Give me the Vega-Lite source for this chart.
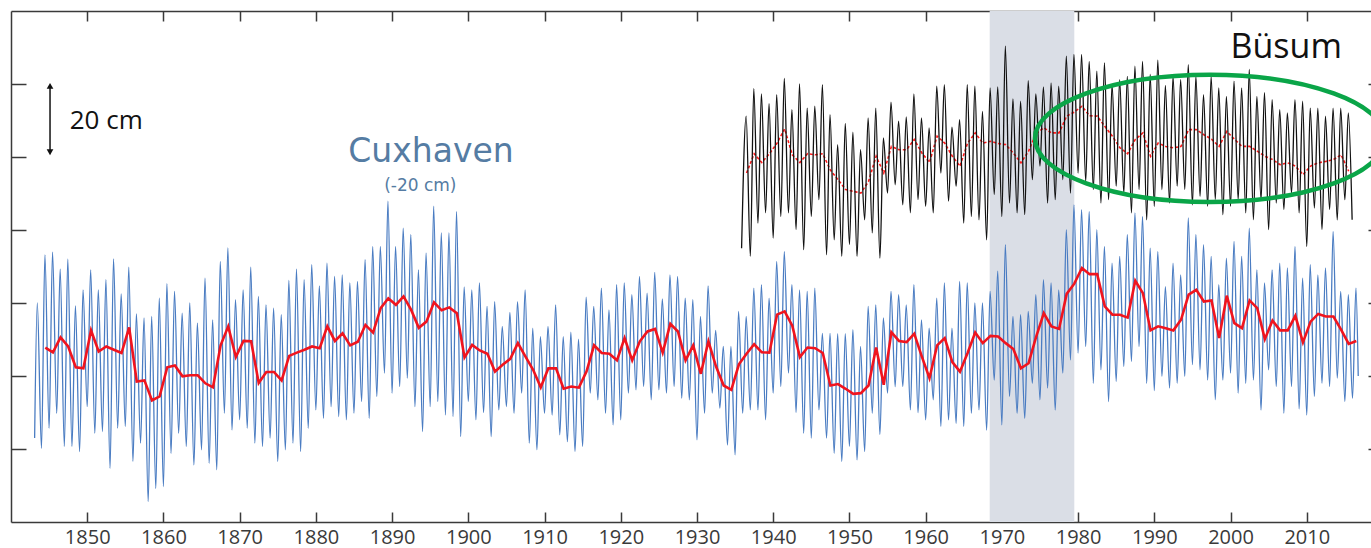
{
"$schema":"https://vega.github.io/schema/vega-lite/v6.json",
"width":1372,"height":511,
"autosize":{"type":"none"},
"padding":{"left":11,"top":11,"right":0,"bottom":26},
"background":"white",
"config":{"view":{"stroke":null},"axis":{"grid":false,"title":null,"domainColor":"#3a3a3a","domainWidth":1.5,"tickColor":"#3a3a3a","tickWidth":1.5}},
"datasets":{
"one":[{}],
"band":[{"start":1968.4,"end":1979.5}],
"cux":[{"t":1843.1,"v":23},{"t":1843.45,"v":60},
{"t":1844,"v":20.2},{"t":1844.45,"v":73.2},{"t":1845,"v":25.7},{"t":1845.45,"v":73.9},{"t":1846,"v":29.8},{"t":1846.45,"v":69.3},{"t":1847,"v":20.7},{"t":1847.45,"v":72.0},{"t":1848,"v":20.7},{"t":1848.45,"v":59.2},{"t":1849,"v":19.3},{"t":1849.45,"v":63.6},
{"t":1850,"v":31.6},{"t":1850.45,"v":69.1},{"t":1851,"v":24.3},{"t":1851.45,"v":63.6},{"t":1852,"v":24.8},{"t":1852.45,"v":66.4},{"t":1853,"v":14.7},{"t":1853.45,"v":72.1},{"t":1854,"v":25.7},{"t":1854.45,"v":62.5},{"t":1855,"v":26.2},{"t":1855.45,"v":69.8},{"t":1856,"v":16.6},{"t":1856.45,"v":57.0},{"t":1857,"v":21.6},{"t":1857.45,"v":55.9},{"t":1858,"v":5.6},{"t":1858.45,"v":56.3},{"t":1859,"v":9.2},{"t":1859.45,"v":61.3},
{"t":1860,"v":9.7},{"t":1860.45,"v":65.3},{"t":1861,"v":18.8},{"t":1861.45,"v":63.2},{"t":1862,"v":24.3},{"t":1862.45,"v":57.2},{"t":1863,"v":20.7},{"t":1863.45,"v":60.0},{"t":1864,"v":15.6},{"t":1864.45,"v":54.5},{"t":1865,"v":19.8},{"t":1865.45,"v":66.8},{"t":1866,"v":16.1},{"t":1866.45,"v":55.4},{"t":1867,"v":14.3},{"t":1867.45,"v":71.4},{"t":1868,"v":29.8},{"t":1868.45,"v":75.1},{"t":1869,"v":25.2},{"t":1869.45,"v":60.9},
{"t":1870,"v":28.0},{"t":1870.45,"v":63.6},{"t":1871,"v":25.7},{"t":1871.45,"v":69.8},{"t":1872,"v":21.6},{"t":1872.45,"v":61.8},{"t":1873,"v":20.7},{"t":1873.45,"v":59.5},{"t":1874,"v":23.0},{"t":1874.45,"v":58.6},{"t":1875,"v":16.6},{"t":1875.45,"v":56.8},{"t":1876,"v":19.8},{"t":1876.45,"v":66.2},{"t":1877,"v":21.6},{"t":1877.45,"v":69.3},{"t":1878,"v":19.3},{"t":1878.45,"v":66.4},{"t":1879,"v":25.7},{"t":1879.45,"v":70.5},
{"t":1880,"v":30.7},{"t":1880.45,"v":64.7},{"t":1881,"v":28.4},{"t":1881.45,"v":70.9},{"t":1882,"v":31.6},{"t":1882.45,"v":67.3},{"t":1883,"v":28.9},{"t":1883.45,"v":67.7},{"t":1884,"v":28.0},{"t":1884.45,"v":65.5},{"t":1885,"v":29.8},{"t":1885.45,"v":65.9},{"t":1886,"v":33.0},{"t":1886.45,"v":71.9},{"t":1887,"v":28.4},{"t":1887.45,"v":75.5},{"t":1888,"v":34.4},{"t":1888.45,"v":75.5},{"t":1889,"v":40.8},{"t":1889.45,"v":87.9},
{"t":1890,"v":35.3},{"t":1890.45,"v":75.5},{"t":1891,"v":37.1},{"t":1891.45,"v":80.5},{"t":1892,"v":39.4},{"t":1892.45,"v":78.7},{"t":1893,"v":31.6},{"t":1893.45,"v":69.1},{"t":1894,"v":24.8},{"t":1894.45,"v":73.7},{"t":1895,"v":31.6},{"t":1895.45,"v":86.5},{"t":1896,"v":33.0},{"t":1896.45,"v":79.2},{"t":1897,"v":29.3},{"t":1897.45,"v":79.2},{"t":1898,"v":28.9},{"t":1898.45,"v":85.1},{"t":1899,"v":23.4},{"t":1899.45,"v":64.4},
{"t":1900,"v":33.0},{"t":1900.45,"v":63.6},{"t":1901,"v":28.0},{"t":1901.45,"v":65.5},{"t":1902,"v":30.0},{"t":1902.45,"v":59.1},{"t":1903,"v":23.4},{"t":1903.45,"v":60.4},{"t":1904,"v":30.7},{"t":1904.45,"v":53.6},{"t":1905,"v":31.6},{"t":1905.45,"v":57.4},{"t":1906,"v":29.8},{"t":1906.45,"v":60.4},{"t":1907,"v":35.3},{"t":1907.45,"v":63.6},{"t":1908,"v":21.6},{"t":1908.45,"v":53.1},{"t":1909,"v":19.8},{"t":1909.45,"v":50.8},
{"t":1910,"v":29.8},{"t":1910.45,"v":53.6},{"t":1911,"v":29.3},{"t":1911.45,"v":59.5},{"t":1912,"v":23.9},{"t":1912.45,"v":50.8},{"t":1913,"v":22.0},{"t":1913.45,"v":52.0},{"t":1914,"v":19.3},{"t":1914.45,"v":50.1},{"t":1915,"v":20.7},{"t":1915.45,"v":61.6},{"t":1916,"v":35.3},{"t":1916.45,"v":59.1},{"t":1917,"v":33.5},{"t":1917.45,"v":64.1},{"t":1918,"v":29.8},{"t":1918.45,"v":58.1},{"t":1919,"v":26.6},{"t":1919.45,"v":65.0},
{"t":1920,"v":28.0},{"t":1920.45,"v":65.5},{"t":1921,"v":35.3},{"t":1921.45,"v":62.3},{"t":1922,"v":36.2},{"t":1922.45,"v":67.3},{"t":1923,"v":37.1},{"t":1923.45,"v":62.7},{"t":1924,"v":33.5},{"t":1924.45,"v":68.4},{"t":1925,"v":36.2},{"t":1925.45,"v":61.1},{"t":1926,"v":35.3},{"t":1926.45,"v":67.7},{"t":1927,"v":37.1},{"t":1927.45,"v":67.3},{"t":1928,"v":33.9},{"t":1928.45,"v":61.3},{"t":1929,"v":33.5},{"t":1929.45,"v":60.9},
{"t":1930,"v":22.5},{"t":1930.45,"v":56.3},{"t":1931,"v":29.8},{"t":1931.45,"v":64.7},{"t":1932,"v":35.3},{"t":1932.45,"v":52.5},{"t":1933,"v":31.2},{"t":1933.45,"v":48.1},{"t":1934,"v":21.1},{"t":1934.45,"v":48.1},{"t":1935,"v":18.4},{"t":1935.45,"v":57.7},{"t":1936,"v":29.8},{"t":1936.45,"v":56.3},{"t":1937,"v":30.7},{"t":1937.45,"v":64.1},{"t":1938,"v":30.7},{"t":1938.45,"v":65.0},{"t":1939,"v":28.0},{"t":1939.45,"v":61.3},
{"t":1940,"v":35.3},{"t":1940.45,"v":71.4},{"t":1941,"v":37.1},{"t":1941.45,"v":74.1},{"t":1942,"v":40.8},{"t":1942.45,"v":65.0},{"t":1943,"v":30.0},{"t":1943.45,"v":63.6},{"t":1944,"v":24.3},{"t":1944.45,"v":63.2},{"t":1945,"v":23.0},{"t":1945.45,"v":64.1},{"t":1946,"v":30.7},{"t":1946.45,"v":51.7},{"t":1947,"v":23.0},{"t":1947.45,"v":51.7},{"t":1948,"v":18.8},{"t":1948.45,"v":51.6},{"t":1949,"v":16.6},{"t":1949.45,"v":51.6},
{"t":1950,"v":20.7},{"t":1950.45,"v":52.7},{"t":1951,"v":17.0},{"t":1951.45,"v":48.1},{"t":1952,"v":19.3},{"t":1952.45,"v":59.1},{"t":1953,"v":29.8},{"t":1953.45,"v":59.5},{"t":1954,"v":24.0},{"t":1954.45,"v":55.9},{"t":1955,"v":35.3},{"t":1955.45,"v":63.2},{"t":1956,"v":37.1},{"t":1956.45,"v":62.3},{"t":1957,"v":37.1},{"t":1957.45,"v":59.5},{"t":1958,"v":30.7},{"t":1958.45,"v":65.0},{"t":1959,"v":30.0},{"t":1959.45,"v":55.4},
{"t":1960,"v":28.0},{"t":1960.45,"v":53.1},{"t":1961,"v":33.5},{"t":1961.45,"v":61.3},{"t":1962,"v":26.2},{"t":1962.45,"v":65.5},{"t":1963,"v":28.0},{"t":1963.45,"v":53.1},{"t":1964,"v":27.0},{"t":1964.45,"v":65.9},{"t":1965,"v":26.2},{"t":1965.45,"v":65.5},{"t":1966,"v":29.8},{"t":1966.45,"v":60.0},{"t":1967,"v":30.7},{"t":1967.45,"v":60.0},{"t":1968,"v":25.2},{"t":1968.45,"v":63.2},{"t":1969,"v":38.9},{"t":1969.45,"v":68.7},
{"t":1970,"v":26.6},{"t":1970.45,"v":76.0},{"t":1971,"v":34.4},{"t":1971.45,"v":56.3},{"t":1972,"v":29.8},{"t":1972.45,"v":56.8},{"t":1973,"v":28.4},{"t":1973.45,"v":57.7},{"t":1974,"v":38.0},{"t":1974.45,"v":62.3},{"t":1975,"v":33.5},{"t":1975.45,"v":66.4},{"t":1976,"v":36.7},{"t":1976.45,"v":65.5},{"t":1977,"v":30.7},{"t":1977.45,"v":63.6},{"t":1978,"v":40.8},{"t":1978.45,"v":80.1},{"t":1979,"v":44.4},{"t":1979.45,"v":86.9},
{"t":1980,"v":46.3},{"t":1980.45,"v":85.6},{"t":1981,"v":48.1},{"t":1981.45,"v":85.1},{"t":1982,"v":38.0},{"t":1982.45,"v":80.1},{"t":1983,"v":41.7},{"t":1983.45,"v":75.5},{"t":1984,"v":33.0},{"t":1984.45,"v":70.9},{"t":1985,"v":38.5},{"t":1985.45,"v":72.8},{"t":1986,"v":42.6},{"t":1986.45,"v":78.7},{"t":1987,"v":44.0},{"t":1987.45,"v":84.7},{"t":1988,"v":48.1},{"t":1988.45,"v":83.7},{"t":1989,"v":38.0},{"t":1989.45,"v":75.0},
{"t":1990,"v":36.0},{"t":1990.45,"v":74.1},{"t":1991,"v":39.9},{"t":1991.45,"v":64.5},{"t":1992,"v":36.7},{"t":1992.45,"v":70.9},{"t":1993,"v":38.0},{"t":1993.45,"v":67.7},{"t":1994,"v":39.9},{"t":1994.45,"v":83.3},{"t":1995,"v":43.1},{"t":1995.45,"v":78.7},{"t":1996,"v":41.7},{"t":1996.45,"v":76.0},{"t":1997,"v":38.9},{"t":1997.45,"v":72.8},{"t":1998,"v":33.5},{"t":1998.45,"v":65.0},{"t":1999,"v":38.9},{"t":1999.45,"v":72.3},
{"t":2000,"v":40.8},{"t":2000.45,"v":76.9},{"t":2001,"v":35.3},{"t":2001.45,"v":72.8},{"t":2002,"v":38.0},{"t":2002.45,"v":80.5},{"t":2003,"v":38.9},{"t":2003.45,"v":69.1},{"t":2004,"v":30.7},{"t":2004.45,"v":65.5},{"t":2005,"v":41.7},{"t":2005.45,"v":69.1},{"t":2006,"v":37.1},{"t":2006.45,"v":70.9},{"t":2007,"v":29.8},{"t":2007.45,"v":69.6},{"t":2008,"v":37.1},{"t":2008.45,"v":75.5},{"t":2009,"v":31.0},{"t":2009.45,"v":66.8},
{"t":2010,"v":29.3},{"t":2010.45,"v":70.5},{"t":2011,"v":34.4},{"t":2011.45,"v":67.7},{"t":2012,"v":38.0},{"t":2012.45,"v":69.6},{"t":2013,"v":37.1},{"t":2013.45,"v":79.6},{"t":2014,"v":39.4},{"t":2014.45,"v":63.2},{"t":2015,"v":33.0},{"t":2015.45,"v":62.3},{"t":2016,"v":33.9},{"t":2016.45,"v":64.1},{"t":2016.75,"v":40.0}],
"cuxm":[{"t":1844.5,"v":47.8},{"t":1845.5,"v":46.5},{"t":1846.5,"v":50.6},{"t":1847.5,"v":48.1},{"t":1848.5,"v":42.4},{"t":1849.5,"v":42.1},{"t":1850.5,"v":52.5},{"t":1851.5,"v":46.7},{"t":1852.5,"v":48.1},{"t":1853.5,"v":47.2},{"t":1854.5,"v":46.3},{"t":1855.5,"v":53.3},{"t":1856.5,"v":38.5},{"t":1857.5,"v":38.8},{"t":1858.5,"v":33.3},{"t":1859.5,"v":34.4},
{"t":1860.5,"v":42.4},{"t":1861.5,"v":42.9},{"t":1862.5,"v":39.9},{"t":1863.5,"v":40.2},{"t":1864.5,"v":40.2},{"t":1865.5,"v":38.0},{"t":1866.5,"v":36.9},{"t":1867.5,"v":48.4},{"t":1868.5,"v":53.6},{"t":1869.5,"v":45.2},{"t":1870.5,"v":49.6},{"t":1871.5,"v":49.5},{"t":1872.5,"v":38.1},{"t":1873.5,"v":41.1},{"t":1874.5,"v":41.1},{"t":1875.5,"v":38.8},{"t":1876.5,"v":45.5},{"t":1877.5,"v":46.4},{"t":1878.5,"v":47.2},{"t":1879.5,"v":48.1},
{"t":1880.5,"v":47.6},{"t":1881.5,"v":53.6},{"t":1882.5,"v":49.6},{"t":1883.5,"v":51.7},{"t":1884.5,"v":48.4},{"t":1885.5,"v":49.4},{"t":1886.5,"v":54.0},{"t":1887.5,"v":51.9},{"t":1888.5,"v":58.6},{"t":1889.5,"v":61.3},{"t":1890.5,"v":59.5},{"t":1891.5,"v":61.8},{"t":1892.5,"v":58.1},{"t":1893.5,"v":53.2},{"t":1894.5,"v":54.9},{"t":1895.5,"v":60.2},{"t":1896.5,"v":58.0},{"t":1897.5,"v":58.8},{"t":1898.5,"v":57.2},{"t":1899.5,"v":45.1},
{"t":1900.5,"v":48.5},{"t":1901.5,"v":47.0},{"t":1902.5,"v":46.1},{"t":1903.5,"v":41.2},{"t":1904.5,"v":43.1},{"t":1905.5,"v":44.7},{"t":1906.5,"v":49.0},{"t":1907.5,"v":45.3},{"t":1908.5,"v":41.7},{"t":1909.5,"v":36.9},{"t":1910.5,"v":42.1},{"t":1911.5,"v":42.1},{"t":1912.5,"v":36.5},{"t":1913.5,"v":37.1},{"t":1914.5,"v":36.8},{"t":1915.5,"v":41.2},{"t":1916.5,"v":48.4},{"t":1917.5,"v":46.3},{"t":1918.5,"v":46.1},{"t":1919.5,"v":44.3},
{"t":1920.5,"v":50.4},{"t":1921.5,"v":44.3},{"t":1922.5,"v":49.5},{"t":1923.5,"v":52.2},{"t":1924.5,"v":52.9},{"t":1925.5,"v":46.4},{"t":1926.5,"v":54.3},{"t":1927.5,"v":52.2},{"t":1928.5,"v":44.3},{"t":1929.5,"v":48.4},{"t":1930.5,"v":40.6},{"t":1931.5,"v":49.5},{"t":1932.5,"v":42.6},{"t":1933.5,"v":37.4},{"t":1934.5,"v":36.2},{"t":1935.5,"v":43.2},{"t":1936.5,"v":46.1},{"t":1937.5,"v":48.7},{"t":1938.5,"v":46.5},{"t":1939.5,"v":46.4},
{"t":1940.5,"v":56.8},{"t":1941.5,"v":57.7},{"t":1942.5,"v":53.8},{"t":1943.5,"v":45.2},{"t":1944.5,"v":47.8},{"t":1945.5,"v":47.6},{"t":1946.5,"v":46.3},{"t":1947.5,"v":37.4},{"t":1948.5,"v":37.8},{"t":1949.5,"v":36.5},{"t":1950.5,"v":35.1},{"t":1951.5,"v":35.3},{"t":1952.5,"v":37.4},{"t":1953.5,"v":47.8},{"t":1954.5,"v":37.6},{"t":1955.5,"v":52.0},{"t":1956.5,"v":49.6},{"t":1957.5,"v":49.3},{"t":1958.5,"v":51.6},{"t":1959.5,"v":45.3},
{"t":1960.5,"v":39.4},{"t":1961.5,"v":48.4},{"t":1962.5,"v":50.4},{"t":1963.5,"v":43.8},{"t":1964.5,"v":41.2},{"t":1965.5,"v":46.3},{"t":1966.5,"v":51.9},{"t":1967.5,"v":49.0},{"t":1968.5,"v":51.0},{"t":1969.5,"v":50.8},{"t":1970.5,"v":49.0},{"t":1971.5,"v":47.4},{"t":1972.5,"v":42.1},{"t":1973.5,"v":43.5},{"t":1974.5,"v":50.8},{"t":1975.5,"v":57.2},{"t":1976.5,"v":53.6},{"t":1977.5,"v":52.9},{"t":1978.5,"v":62.5},{"t":1979.5,"v":65.3},
{"t":1980.5,"v":69.6},{"t":1981.5,"v":67.9},{"t":1982.5,"v":67.9},{"t":1983.5,"v":59.1},{"t":1984.5,"v":56.8},{"t":1985.5,"v":56.8},{"t":1986.5,"v":56.0},{"t":1987.5,"v":66.1},{"t":1988.5,"v":62.7},{"t":1989.5,"v":52.5},{"t":1990.5,"v":53.6},{"t":1991.5,"v":53.1},{"t":1992.5,"v":52.5},{"t":1993.5,"v":55.4},{"t":1994.5,"v":62.3},{"t":1995.5,"v":63.6},{"t":1996.5,"v":60.4},{"t":1997.5,"v":60.7},{"t":1998.5,"v":50.4},{"t":1999.5,"v":62.0},
{"t":2000.5,"v":54.5},{"t":2001.5,"v":53.1},{"t":2002.5,"v":60.7},{"t":2003.5,"v":58.6},{"t":2004.5,"v":50.1},{"t":2005.5,"v":55.2},{"t":2006.5,"v":52.5},{"t":2007.5,"v":52.5},{"t":2008.5,"v":56.5},{"t":2009.5,"v":49.2},{"t":2010.5,"v":54.9},{"t":2011.5,"v":57.0},{"t":2012.5,"v":56.3},{"t":2013.5,"v":56.3},{"t":2014.5,"v":52.7},{"t":2015.5,"v":48.8},{"t":2016.5,"v":49.6}],
"bus":[{"t":1935.85,"v":75.0},{"t":1936.45,"v":111.2},
{"t":1937,"v":72.8},{"t":1937.45,"v":118.7},{"t":1938,"v":81.9},{"t":1938.45,"v":117.3},{"t":1939,"v":84.7},{"t":1939.45,"v":114.6},
{"t":1940,"v":77.8},{"t":1940.45,"v":117.1},{"t":1941,"v":83.7},{"t":1941.45,"v":121.5},{"t":1942,"v":84.7},{"t":1942.45,"v":113.0},{"t":1943,"v":80.1},{"t":1943.45,"v":120.0},{"t":1944,"v":74.6},{"t":1944.45,"v":113.4},{"t":1945,"v":83.7},{"t":1945.45,"v":113.9},{"t":1946,"v":88.3},{"t":1946.45,"v":119.8},{"t":1947,"v":73.2},{"t":1947.45,"v":111.6},{"t":1948,"v":77.3},{"t":1948.45,"v":103.4},{"t":1949,"v":72.8},{"t":1949.45,"v":109.2},
{"t":1950,"v":76.0},{"t":1950.45,"v":106.8},{"t":1951,"v":72.8},{"t":1951.45,"v":102.0},{"t":1952,"v":82.8},{"t":1952.45,"v":110.7},{"t":1953,"v":79.2},{"t":1953.45,"v":113.4},{"t":1954,"v":72.3},{"t":1954.45,"v":105.2},{"t":1955,"v":90.1},{"t":1955.45,"v":115.0},{"t":1956,"v":92.4},{"t":1956.45,"v":109.8},{"t":1957,"v":86.9},{"t":1957.45,"v":111.0},{"t":1958,"v":84.7},{"t":1958.45,"v":117.3},{"t":1959,"v":88.3},{"t":1959.45,"v":110.7},
{"t":1960,"v":86.5},{"t":1960.45,"v":108.0},{"t":1961,"v":84.7},{"t":1961.45,"v":119.4},{"t":1962,"v":95.6},{"t":1962.45,"v":119.8},{"t":1963,"v":87.9},{"t":1963.45,"v":108.2},{"t":1964,"v":92.0},{"t":1964.45,"v":110.2},{"t":1965,"v":81.9},{"t":1965.45,"v":119.8},{"t":1966,"v":83.7},{"t":1966.45,"v":119.4},{"t":1967,"v":82.8},{"t":1967.45,"v":112.5},{"t":1968,"v":77.3},{"t":1968.45,"v":118.9},{"t":1969,"v":89.7},{"t":1969.45,"v":119.2},
{"t":1970,"v":83.7},{"t":1970.45,"v":130.4},{"t":1971,"v":87.4},{"t":1971.45,"v":115.9},{"t":1972,"v":84.7},{"t":1972.45,"v":115.3},{"t":1973,"v":84.2},{"t":1973.45,"v":120.9},{"t":1974,"v":93.8},{"t":1974.45,"v":117.3},{"t":1975,"v":97.5},{"t":1975.45,"v":119.2},{"t":1976,"v":87.4},{"t":1976.45,"v":120.3},{"t":1977,"v":88.3},{"t":1977.45,"v":119.4},{"t":1978,"v":93.8},{"t":1978.45,"v":127.6},{"t":1979,"v":90.1},{"t":1979.45,"v":128.1},
{"t":1980,"v":95.6},{"t":1980.45,"v":128.1},{"t":1981,"v":93.3},{"t":1981.45,"v":126.2},{"t":1982,"v":91.1},{"t":1982.45,"v":123.5},{"t":1983,"v":87.4},{"t":1983.45,"v":125.8},{"t":1984,"v":88.3},{"t":1984.45,"v":119.8},{"t":1985,"v":92.0},{"t":1985.45,"v":121.2},{"t":1986,"v":90.1},{"t":1986.45,"v":122.1},{"t":1987,"v":84.7},{"t":1987.45,"v":124.9},{"t":1988,"v":91.1},{"t":1988.45,"v":126.2},{"t":1989,"v":82.8},{"t":1989.45,"v":122.6},
{"t":1990,"v":86.5},{"t":1990.45,"v":126.5},{"t":1991,"v":91.1},{"t":1991.45,"v":119.6},{"t":1992,"v":87.4},{"t":1992.45,"v":122.1},{"t":1993,"v":92.0},{"t":1993.45,"v":121.2},{"t":1994,"v":91.1},{"t":1994.45,"v":125.3},{"t":1995,"v":86.9},{"t":1995.45,"v":122.1},{"t":1996,"v":89.2},{"t":1996.45,"v":117.1},{"t":1997,"v":86.5},{"t":1997.45,"v":122.1},{"t":1998,"v":88.3},{"t":1998.45,"v":118.9},{"t":1999,"v":84.2},{"t":1999.45,"v":116.6},
{"t":2000,"v":86.5},{"t":2000.45,"v":120.8},{"t":2001,"v":88.3},{"t":2001.45,"v":118.9},{"t":2002,"v":84.7},{"t":2002.45,"v":124.0},{"t":2003,"v":82.8},{"t":2003.45,"v":116.6},{"t":2004,"v":88.3},{"t":2004.45,"v":117.6},{"t":2005,"v":80.1},{"t":2005.45,"v":115.7},{"t":2006,"v":87.4},{"t":2006.45,"v":113.0},{"t":2007,"v":85.6},{"t":2007.45,"v":112.1},{"t":2008,"v":90.1},{"t":2008.45,"v":115.7},{"t":2009,"v":84.7},{"t":2009.45,"v":115.3},
{"t":2010,"v":75.5},{"t":2010.45,"v":113.4},{"t":2011,"v":86.0},{"t":2011.45,"v":113.4},{"t":2012,"v":80.1},{"t":2012.45,"v":111.2},{"t":2013,"v":85.6},{"t":2013.45,"v":113.4},{"t":2014,"v":82.8},{"t":2014.45,"v":113.4},{"t":2015,"v":88.3},{"t":2015.45,"v":112.1},{"t":2015.95,"v":82.8}],
"busm":[{"t":1936.5,"v":95.6},{"t":1937.5,"v":100.9},{"t":1938.5,"v":98.5},{"t":1939.5,"v":100.9},{"t":1940.5,"v":103.8},{"t":1941.5,"v":107.7},{"t":1942.5,"v":100.6},{"t":1943.5,"v":98.5},{"t":1944.5,"v":100.9},{"t":1945.5,"v":100.6},{"t":1946.5,"v":100.9},{"t":1947.5,"v":96.4},{"t":1948.5,"v":93.8},{"t":1949.5,"v":91.1},
{"t":1950.5,"v":90.6},{"t":1951.5,"v":90.1},{"t":1952.5,"v":93.3},{"t":1953.5,"v":100.2},{"t":1954.5,"v":95.6},{"t":1955.5,"v":102.9},{"t":1956.5,"v":102.0},{"t":1957.5,"v":102.0},{"t":1958.5,"v":104.8},{"t":1959.5,"v":101.1},{"t":1960.5,"v":98.5},{"t":1961.5,"v":105.7},{"t":1962.5,"v":103.8},{"t":1963.5,"v":100.2},{"t":1964.5,"v":97.5},{"t":1965.5,"v":103.8},{"t":1966.5,"v":106.6},{"t":1967.5,"v":103.8},{"t":1968.5,"v":104.3},{"t":1969.5,"v":103.7},
{"t":1970.5,"v":103.4},{"t":1971.5,"v":101.1},{"t":1972.5,"v":98.4},{"t":1973.5,"v":101.6},{"t":1974.5,"v":106.5},{"t":1975.5,"v":108.0},{"t":1976.5,"v":106.6},{"t":1977.5,"v":106.6},{"t":1978.5,"v":111.2},{"t":1979.5,"v":112.3},{"t":1980.5,"v":113.9},{"t":1981.5,"v":111.3},{"t":1982.5,"v":111.2},{"t":1983.5,"v":108.4},{"t":1984.5,"v":105.7},{"t":1985.5,"v":102.5},{"t":1986.5,"v":100.9},{"t":1987.5,"v":104.8},{"t":1988.5,"v":106.6},{"t":1989.5,"v":100.2},
{"t":1990.5,"v":103.8},{"t":1991.5,"v":102.9},{"t":1992.5,"v":102.5},{"t":1993.5,"v":102.9},{"t":1994.5,"v":107.5},{"t":1995.5,"v":107.5},{"t":1996.5,"v":106.1},{"t":1997.5,"v":104.9},{"t":1998.5,"v":102.9},{"t":1999.5,"v":107.0},{"t":2000.5,"v":104.9},{"t":2001.5,"v":102.9},{"t":2002.5,"v":102.9},{"t":2003.5,"v":101.6},{"t":2004.5,"v":100.2},{"t":2005.5,"v":99.3},{"t":2006.5,"v":97.9},{"t":2007.5,"v":98.4},{"t":2008.5,"v":97.5},{"t":2009.5,"v":95.2},
{"t":2010.5,"v":97.5},{"t":2011.5,"v":98.4},{"t":2012.5,"v":98.8},{"t":2013.5,"v":99.3},{"t":2014.5,"v":100.6},{"t":2015.5,"v":96.1}]
},
"layer":[
{"data":{"name":"band"},"mark":{"type":"rect","color":"#dadee6"},
 "encoding":{"x":{"field":"start","type":"quantitative","scale":{"domain":[1840,2020],"nice":false,"zero":false},
   "axis":{"orient":"bottom","values":[1850,1860,1870,1880,1890,1900,1910,1920,1930,1940,1950,1960,1970,1980,1990,2000,2010],"format":"d","tickSize":-10,"labelPadding":15,"labelFont":"Open Sans","labelFontSize":20,"labelColor":"#3a3a3a","labelFlush":false}},
  "x2":{"field":"end"}}},
{"data":{"name":"cux"},"mark":{"type":"line","color":"#4a7cc2","strokeWidth":1.3,"interpolate":"monotone"},
 "encoding":{"x":{"field":"t","type":"quantitative","scale":{"domain":[1840,2020],"nice":false,"zero":false},
   "axis":{"orient":"top","values":[1850,1860,1870,1880,1890,1900,1910,1920,1930,1940,1950,1960,1970,1980,1990,2000,2010],"labels":false,"tickSize":-10}},
  "y":{"field":"v","type":"quantitative","scale":{"domain":[0,140],"nice":false,"zero":false},
   "axis":{"orient":"left","values":[20,40,60,80,100,120],"labels":false,"tickSize":-15}}}},
{"data":{"name":"cuxm"},"mark":{"type":"line","color":"#f0141e","strokeWidth":2.6},
 "encoding":{"x":{"field":"t","type":"quantitative","axis":null},
  "y":{"field":"v","type":"quantitative","axis":{"orient":"right","values":[20,40,60,80,100,120],"labels":false,"tickSize":-15}}}},
{"data":{"name":"busm"},"mark":{"type":"line","color":"#ff1a1a","strokeWidth":1.6,"strokeDash":[3,2]},
 "encoding":{"x":{"field":"t","type":"quantitative","axis":null},"y":{"field":"v","type":"quantitative","axis":null}}},
{"data":{"name":"bus"},"mark":{"type":"line","color":"#111111","strokeWidth":1.3,"interpolate":"monotone"},
 "encoding":{"x":{"field":"t","type":"quantitative","axis":null},"y":{"field":"v","type":"quantitative","axis":null}}},
{"data":{"name":"one"},"mark":{"type":"point","shape":"M-1,0A1,0.363,0,1,1,1,0A1,0.363,0,1,1,-1,0Z","size":122500,"filled":false,"stroke":"#0aa548","strokeWidth":4.5,"opacity":1},
 "encoding":{"x":{"datum":1997.3,"type":"quantitative","axis":null},"y":{"datum":105.1,"type":"quantitative","axis":null}}},
{"data":{"name":"one"},"mark":{"type":"text","text":"Büsum","font":"Open Sans","fontSize":34,"color":"#111111","align":"center","baseline":"alphabetic"},
 "encoding":{"x":{"datum":2007.3,"type":"quantitative","axis":null},"y":{"datum":127.2,"type":"quantitative","axis":null}}},
{"data":{"name":"one"},"mark":{"type":"text","text":"Cuxhaven","font":"DejaVu Sans","fontSize":33,"color":"#557ca3","align":"center","baseline":"alphabetic"},
 "encoding":{"x":{"datum":1895.1,"type":"quantitative","axis":null},"y":{"datum":98.5,"type":"quantitative","axis":null}}},
{"data":{"name":"one"},"mark":{"type":"text","text":"(-20 cm)","font":"DejaVu Sans","fontSize":17,"color":"#557ca3","align":"center","baseline":"alphabetic"},
 "encoding":{"x":{"datum":1893.7,"type":"quantitative","axis":null},"y":{"datum":90.7,"type":"quantitative","axis":null}}},
{"data":{"name":"one"},"mark":{"type":"text","text":"20 cm","font":"Open Sans","fontSize":26,"color":"#111111","align":"left","baseline":"alphabetic"},
 "encoding":{"x":{"datum":1847.7,"type":"quantitative","axis":null},"y":{"datum":107.6,"type":"quantitative","axis":null}}},
{"data":{"name":"one"},"mark":{"type":"rule","color":"#111111","strokeWidth":1.5},
 "encoding":{"x":{"datum":1845.12,"type":"quantitative","axis":null},"y":{"datum":101.4,"type":"quantitative","axis":null},"y2":{"datum":119.4}}},
{"data":{"name":"one"},"mark":{"type":"point","shape":"triangle-up","size":45,"filled":true,"color":"#111111","opacity":1},
 "encoding":{"x":{"datum":1845.12,"type":"quantitative","axis":null},"y":{"datum":119.5,"type":"quantitative","axis":null}}},
{"data":{"name":"one"},"mark":{"type":"point","shape":"triangle-down","size":45,"filled":true,"color":"#111111","opacity":1},
 "encoding":{"x":{"datum":1845.12,"type":"quantitative","axis":null},"y":{"datum":101.3,"type":"quantitative","axis":null}}}
],
"resolve":{"axis":{"x":"independent","y":"independent"}}
}
